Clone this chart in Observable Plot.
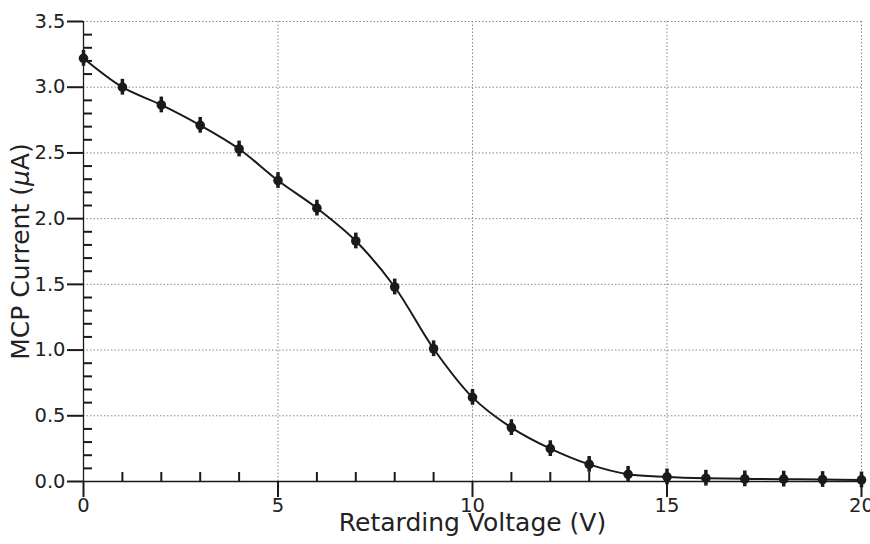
<!DOCTYPE html>
<html>
<head>
<meta charset="utf-8">
<script src="https://cdn.jsdelivr.net/npm/d3@7"></script>
<script src="https://cdn.jsdelivr.net/npm/@observablehq/plot@0.6"></script>
<style>
  body { margin: 0; background: #fff; }
  #chart svg { display: block; }
</style>
</head>
<body>
<div id="chart"></div>
<script>
// Data
const voltage = [0, 1, 2, 3, 4, 5, 6, 7, 8, 9, 10, 11, 12, 13, 14, 15, 16, 17, 18, 19, 20];
const current = [3.22, 3.00, 2.865, 2.71, 2.53, 2.29, 2.08, 1.83, 1.48, 1.01, 0.64, 0.41, 0.25, 0.13, 0.055, 0.035, 0.025, 0.02, 0.018, 0.015, 0.012];
const errorBar = [0.06, 0.06, 0.06, 0.06, 0.06, 0.06, 0.06, 0.06, 0.06, 0.06, 0.06, 0.06, 0.06, 0.06, 0.06, 0.06, 0.06, 0.06, 0.06, 0.06, 0.06];

const xMajorTicks = [0, 5, 10, 15, 20];
const yMajorTicks = [0, 0.5, 1.0, 1.5, 2.0, 2.5, 3.0, 3.5];
const xMinorTicks = d3.range(0, 21, 1).filter(v => v % 5 !== 0);
const yMinorTicks = d3.range(1, 35, 1).filter(v => v % 5 !== 0).map(v => v / 10);

const xLabel = "Retarding Voltage (V)";
const yLabel = "MCP Current (μA)";

const points = voltage.map((v, i) => ({v, c: current[i], e: errorBar[i]}));

const W = 870, H = 544;
const mL = 83, mR = 9, mT = 21, mB = 63;
const plotW = W - mL - mR, plotH = H - mT - mB;
const ink = "#1a1a1a";

const chart = Plot.plot({
  width: W,
  height: H,
  marginLeft: mL,
  marginRight: mR,
  marginTop: mT,
  marginBottom: mB,
  x: {domain: [0, 20]},
  y: {domain: [0, 3.5]},
  style: {fontFamily: "'DejaVu Sans', sans-serif", fontSize: "19px", background: "#fff", color: "#222", overflow: "visible"},
  marks: [
    Plot.gridX(xMajorTicks, {stroke: "#888", strokeOpacity: 1, strokeWidth: 1, strokeDasharray: "1.5,2"}),
    Plot.gridY(yMajorTicks, {stroke: "#888", strokeOpacity: 1, strokeWidth: 1, strokeDasharray: "1.5,2"}),
    Plot.ruleX([0], {stroke: ink, strokeWidth: 1.3}),
    Plot.ruleY([0], {stroke: ink, strokeWidth: 1.3}),
    Plot.axisX(xMajorTicks, {tickSize: 16, tickPadding: 1, strokeWidth: 2, stroke: ink, fontSize: 19.5, label: null}),
    Plot.axisY(yMajorTicks, {tickSize: 16, tickPadding: 2, strokeWidth: 2, stroke: ink, fontSize: 19.5, tickFormat: d3.format(".1f"), label: null}),
    Plot.tickX(xMinorTicks, {x: d => d, insetTop: plotH - 9, stroke: ink, strokeWidth: 2}),
    Plot.tickY(yMinorTicks, {y: d => d, insetRight: plotW - 9, stroke: ink, strokeWidth: 2}),
    Plot.line(points, {x: "v", y: "c", stroke: ink, strokeWidth: 2, curve: "catmull-rom"}),
    Plot.ruleX(points, {x: "v", y1: d => d.c - d.e, y2: d => d.c + d.e, stroke: ink, strokeWidth: 3.5}),
    Plot.dot(points, {x: "v", y: "c", r: 4.8, fill: ink, stroke: "none"}),
    Plot.text([xLabel], {frameAnchor: "bottom", dy: 49.5, fontSize: 25, fill: "#222"}),
    Plot.text([yLabel], {frameAnchor: "left", dx: -62.5, rotate: -90, fontSize: 25, fill: "#222", textAnchor: "middle"})
  ]
});

// italic mu in the y label
d3.select(chart).selectAll("text").filter(function () { return this.textContent === yLabel; }).each(function () {
  const parts = yLabel.split("μ");
  const t = d3.select(this);
  t.text(null);
  t.attr("text-anchor", "middle").style("text-anchor", "middle");
  t.append("tspan").text(parts[0]);
  t.append("tspan").attr("font-style", "italic").text("μ");
  t.append("tspan").text(parts[1]);
});

document.getElementById("chart").appendChild(chart);
</script>
</body>
</html>
